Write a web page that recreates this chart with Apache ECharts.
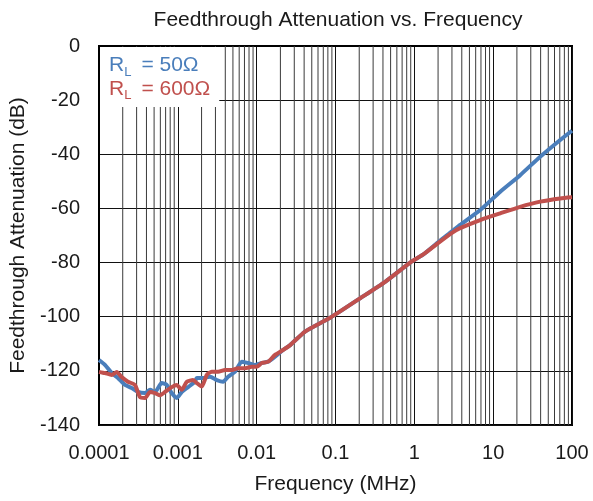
<!DOCTYPE html>
<html>
<head>
<meta charset="utf-8">
<script src="https://cdn.jsdelivr.net/npm/echarts@6/dist/echarts.min.js"></script>
<style>
    html, body { margin: 0; padding: 0; background: #fff; }
    #chart { width: 593px; height: 501px; }
</style>
</head>
<body>
<div id="chart"></div>
<script>
// frequency in MHz, attenuation in dB
var blueFreq = [0.0001, 0.000119, 0.000145, 0.000174, 0.000214, 0.00026, 0.000313, 0.000384, 0.000444, 0.000514,
    0.000625, 0.000723, 0.000837, 0.000968, 0.00112, 0.00135, 0.00165, 0.00174, 0.00209, 0.00256,
    0.00312, 0.00375, 0.00434, 0.00532, 0.00647, 0.00778, 0.00955, 0.0116, 0.014, 0.0171,
    0.0216, 0.0266, 0.0411, 0.0854, 0.205, 0.426, 0.885, 1.3, 2.0, 3.0,
    3.81, 6.84, 12.3, 22, 39.5, 70.8, 100];
var blueDb = [-116, -117.8, -120.8, -122.6, -125.2, -126.3, -127.8, -128.2, -127, -127.8,
    -124.5, -125.2, -128.2, -130, -127.8, -126, -124, -122.6, -122.6, -122.2,
    -123.4, -124, -122.2, -120.3, -116.6, -117.1, -117.8, -117.1, -116.6, -114.8,
    -112.3, -110.5, -105.5, -100.4, -93.2, -87.1, -80, -77, -72.5, -68.5,
    -66.1, -60.6, -53.8, -47.7, -40.9, -34.7, -31.3];

var redFreq = [0.0001, 0.000119, 0.000145, 0.000168, 0.000194, 0.000233, 0.000286, 0.000331, 0.000384, 0.000444,
    0.000514, 0.000594, 0.000688, 0.000837, 0.000968, 0.00112, 0.0013, 0.00156, 0.00174, 0.00201,
    0.00233, 0.00269, 0.00324, 0.00397, 0.00483, 0.00581, 0.00713, 0.00867, 0.01, 0.0116,
    0.014, 0.0171, 0.0216, 0.0266, 0.0411, 0.0854, 0.205, 0.426, 0.885, 1.3,
    2.0, 3.0, 3.81, 6.84, 12.3, 22, 39.5, 70.8, 100];
var redDb = [-120.4, -120.8, -121.5, -120.4, -122.3, -124, -125.2, -129.7, -130, -127.8,
    -128.2, -129, -127.8, -126, -125.2, -127, -124, -123.4, -124.5, -125.8,
    -121.5, -120.3, -120.3, -119.7, -119.7, -119, -119, -118.5, -118.5, -117.1,
    -116.6, -114.1, -112.3, -110.5, -105.5, -100.4, -93.2, -87.1, -80, -77,
    -72.8, -69, -67.3, -64.3, -61.8, -59.4, -57.5, -56.3, -55.9];

var xTickLabels = ['0.0001', '0.001', '0.01', '0.1', '1', '10', '100'];
var seriesNames = ['RL50', 'RL600'];
var seriesColors = ['#4a7ebb', '#c0504d'];

function pairs(xs, ys) {
    return xs.map(function (x, i) { return [x, ys[i]]; });
}

// minor log gridlines (2..9 of each decade), drawn as broken line segments
var minorGrid = [];
for (var d = -4; d < 2; d++) {
    for (var k = 2; k <= 9; k++) {
        var v = k * Math.pow(10, d);
        minorGrid.push([v, -140], [v, 0], [v, '-']);
    }
}

var chart = echarts.init(document.getElementById('chart'));
var font = 'Liberation Sans, Arial, sans-serif';

chart.setOption({
    animation: false,
    backgroundColor: '#fff',
    title: {
        text: 'Feedthrough Attenuation vs. Frequency',
        left: 333,
        textAlign: 'center',
        top: 5,
        textStyle: { fontFamily: font, fontSize: 21, fontWeight: 'normal', color: '#1a1a1a' }
    },
    grid: {
        left: 99, right: 21, top: 46, bottom: 76,
        show: true, borderColor: '#000', borderWidth: 2, backgroundColor: 'transparent'
    },
    legend: {
        orient: 'vertical',
        left: 100,
        top: 47,
        z: 10,
        data: seriesNames,
        icon: 'rect',
        itemWidth: 0,
        itemHeight: 0,
        itemGap: 0,
        padding: [8, 9, 5, 4],
        backgroundColor: '#fff',
        formatter: function (name) {
            return name === 'RL50' ? '{b|R}{bs|L}{b|= 50Ω}' : '{r|R}{rs|L}{r|= 600Ω}';
        },
        textStyle: {
            fontFamily: font,
            rich: {
                b: { color: seriesColors[0], fontSize: 21, lineHeight: 26, fontFamily: font },
                bs: { color: seriesColors[0], fontSize: 13, lineHeight: 14, verticalAlign: 'bottom', padding: [0, 10, 0, 0], fontFamily: font },
                r: { color: seriesColors[1], fontSize: 21, lineHeight: 26, fontFamily: font },
                rs: { color: seriesColors[1], fontSize: 13, lineHeight: 14, verticalAlign: 'bottom', padding: [0, 10, 0, 0], fontFamily: font }
            }
        }
    },
    xAxis: {
        type: 'log',
        logBase: 10,
        min: 0.0001,
        max: 100,
        name: 'Frequency (MHz)',
        nameLocation: 'middle',
        nameGap: 49,
        nameTextStyle: { fontFamily: font, fontSize: 21, color: '#1a1a1a' },
        axisLine: { lineStyle: { color: '#000', width: 2 } },
        axisTick: { show: false },
        axisLabel: {
            fontFamily: font, fontSize: 20, color: '#1a1a1a', margin: 18,
            formatter: function (v) {
                return xTickLabels[Math.round(Math.log10(v)) + 4];
            }
        },
        splitLine: { show: true, lineStyle: { color: '#111', width: 1 } }
    },
    yAxis: {
        type: 'value',
        min: -140,
        max: 0,
        interval: 20,
        name: 'Feedthrough Attenuation (dB)',
        nameLocation: 'middle',
        nameGap: 69,
        nameTextStyle: { fontFamily: font, fontSize: 21, color: '#1a1a1a' },
        axisLine: { show: true, lineStyle: { color: '#000', width: 2 } },
        axisTick: { show: false },
        axisLabel: { fontFamily: font, fontSize: 20, color: '#1a1a1a', margin: 19 },
        splitLine: { show: true, lineStyle: { color: '#111', width: 1 } }
    },
    series: [
        {
            name: 'gridMinor',
            type: 'line',
            data: minorGrid,
            silent: true,
            showSymbol: false,
            connectNulls: false,
            z: 1,
            lineStyle: { color: '#3a3a3a', width: 1 },
            emphasis: { disabled: true }
        },
        {
            name: seriesNames[0],
            type: 'line',
            data: pairs(blueFreq, blueDb),
            showSymbol: false,
            smooth: 0.2,
            z: 3,
            lineStyle: { color: seriesColors[0], width: 4 },
            itemStyle: { color: seriesColors[0] }
        },
        {
            name: seriesNames[1],
            type: 'line',
            data: pairs(redFreq, redDb),
            showSymbol: false,
            smooth: 0.2,
            z: 4,
            lineStyle: { color: seriesColors[1], width: 4 },
            itemStyle: { color: seriesColors[1] }
        }
    ]
});
</script>
</body>
</html>
